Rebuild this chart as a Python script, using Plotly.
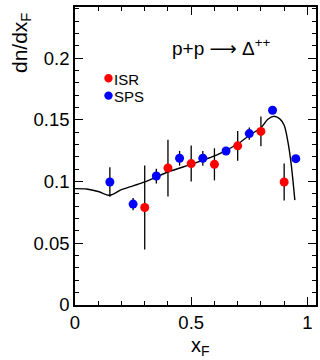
import plotly.graph_objects as go

# ISR data (red)
isr_x = [0.30, 0.40, 0.50, 0.60, 0.70, 0.80, 0.90]
isr_y = [0.079, 0.111, 0.1146, 0.114, 0.129, 0.1407, 0.0997]
isr_err = [0.034, 0.023, 0.0146, 0.013, 0.012, 0.012, 0.015]

# SPS data (blue)
sps_x = [0.15, 0.25, 0.35, 0.45, 0.55, 0.65, 0.75, 0.85, 0.95]
sps_y = [0.0997, 0.0818, 0.1045, 0.1189, 0.1189, 0.1248, 0.1389, 0.1578, 0.1186]
sps_err = [0.012, 0.005, 0.006, 0.006, 0.006, 0.003, 0.005, 0.003, 0.0]

# model curve
curve_x = [0.0, 0.05, 0.10, 0.15, 0.20, 0.25, 0.30, 0.40, 0.50, 0.55, 0.60, 0.65,
           0.70, 0.75, 0.80, 0.83, 0.855, 0.88, 0.90, 0.915, 0.93, 0.946]
curve_y = [0.0943, 0.0940, 0.0920, 0.0889, 0.0935, 0.0966, 0.0997, 0.1078, 0.1140, 0.1173,
           0.1208, 0.1254, 0.1305, 0.1375, 0.1437, 0.1505, 0.1529, 0.1510, 0.1456, 0.1335,
           0.1146, 0.085]

x_range = [0, 1.037]
y_range = [0, 0.2415]
x_ticks = [0, 0.5, 1]
x_ticklabels = ["0", "0.5", "1"]
y_ticks = [0, 0.05, 0.1, 0.15, 0.2]
y_ticklabels = ["0", "0.05", "0.1", "0.15", "0.2"]

FONT = "Liberation Sans, Arial, sans-serif"

fig = go.Figure()
fig.add_trace(go.Scatter(x=curve_x, y=curve_y, mode="lines",
                         line=dict(color="black", width=1.4, shape="spline", smoothing=0.8),
                         showlegend=False, hoverinfo="skip"))
fig.add_trace(go.Scatter(x=isr_x, y=isr_y, mode="markers", name="ISR",
                         marker=dict(color="#ff0000", size=9),
                         error_y=dict(type="data", array=isr_err, color="black", thickness=1.3, width=0),
                         showlegend=False))
fig.add_trace(go.Scatter(x=sps_x, y=sps_y, mode="markers", name="SPS",
                         marker=dict(color="#0000ff", size=9),
                         error_y=dict(type="data", array=sps_err, color="black", thickness=1.3, width=0),
                         showlegend=False))

axis_common = dict(showline=True, linecolor="black", linewidth=1.5, mirror="allticks",
                   ticks="inside", ticklen=8, tickwidth=1.2, tickcolor="black",
                   showgrid=False, zeroline=False,
                   tickfont=dict(family=FONT, size=18.5, color="black"))
fig.update_xaxes(range=x_range, tickvals=x_ticks, ticktext=x_ticklabels,
                 minor=dict(ticks="inside", ticklen=4, dtick=0.1, tickwidth=1, tickcolor="black"),
                 **axis_common)
fig.update_yaxes(range=y_range, tickvals=y_ticks, ticktext=y_ticklabels,
                 minor=dict(ticks="inside", ticklen=4, dtick=0.01, tickwidth=1, tickcolor="black"),
                 **axis_common)

annotations = [
    dict(text="dn/dx<sub>F</sub>", xref="paper", yref="paper", x=0, y=1, xshift=-54, yshift=-4,
         xanchor="center", yanchor="top", textangle=-90, showarrow=False,
         font=dict(family=FONT, size=21, color="black")),
    dict(text="x<sub>F</sub>", xref="paper", yref="paper", x=(201.5 - 75.3) / 242.7, y=0, yshift=-41,
         xanchor="center", yanchor="middle", showarrow=False,
         font=dict(family=FONT, size=20, color="black")),
    dict(text="p+p <span style=\"font-family:'DejaVu Sans'\">\u27f6</span> \u0394<sup>++</sup>",
         xref="x", yref="y", x=0.41, y=0.2088,
         xanchor="left", yanchor="middle", showarrow=False,
         font=dict(family=FONT, size=19, color="black")),
]
legend_items = [("ISR", "#ff0000", 0.1837), ("SPS", "#0000ff", 0.1697)]
shapes = []
for name, col, ly in legend_items:
    annotations.append(dict(text=name, xref="x", yref="y", x=0.144, y=ly, xshift=4, yshift=-1,
                            xanchor="left", yanchor="middle", showarrow=False,
                            font=dict(family=FONT, size=15, color="black")))
    shapes.append(dict(type="circle", xref="x", yref="y", xsizemode="pixel", ysizemode="pixel",
                       xanchor=0.144, yanchor=ly, x0=-4.2, x1=4.2, y0=-4.2, y1=4.2,
                       fillcolor=col, line=dict(width=0)))

fig.update_layout(width=320, height=360, margin=dict(l=75, r=2, t=7, b=55),
                  paper_bgcolor="white", plot_bgcolor="white",
                  annotations=annotations, shapes=shapes, showlegend=False)

fig.write_html("out.html")
